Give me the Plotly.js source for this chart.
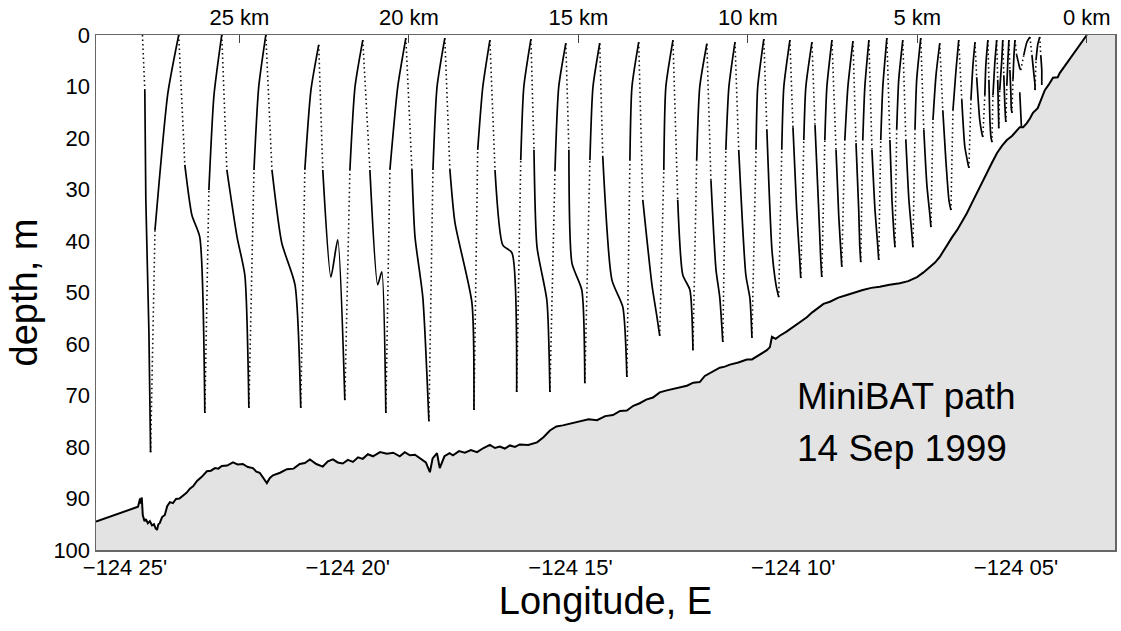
<!DOCTYPE html>
<html>
<head>
<meta charset="utf-8">
<script src="https://cdn.plot.ly/plotly-3.0.1.min.js"></script>
<style>html,body{margin:0;padding:0;background:#fff;}#chart{width:1121px;height:631px;}</style>
</head>
<body>
<div id="chart"></div>
<script>
// ---- axes ----
const xLeftKm = 29.23, xRightKm = -0.83;
const lonLeft = -124.4275, lonRight = -124.0463;
const kmTicks = [25, 20, 15, 10, 5, 0];
const kmTickText = ["25 km", "20 km", "15 km", "10 km", "5 km", "0 km"];
const lonTicks = [-124 - 25/60, -124 - 20/60, -124 - 15/60, -124 - 10/60, -124 - 5/60];
const lonTickText = ["\u2212124 25'", "\u2212124 20'", "\u2212124 15'", "\u2212124 10'", "\u2212124 05'"];
const depthTicks = [0, 10, 20, 30, 40, 50, 60, 70, 80, 90, 100];

// ---- bathymetry: [distance km, depth m] ----
const bathymetry = [
  [29.23,94.5],[27.99,91.6],[27.93,90.0],[27.91,91.0],[27.88,89.8],[27.85,93.2],[27.80,94.4],[27.76,94.0],
  [27.70,94.8],[27.64,94.4],[27.58,95.2],[27.52,95.0],[27.47,95.8],[27.43,96.1],[27.39,95.0],[27.35,94.8],
  [27.28,93.6],[27.20,93.2],[27.13,91.5],[27.05,90.7],[26.96,90.9],[26.87,90.1],[26.77,90.0],[26.67,89.5],
  [26.56,88.9],[26.46,88.1],[26.36,87.6],[26.25,86.6],[26.11,85.8],[25.96,84.7],[25.84,84.6],[25.72,84.1],
  [25.62,84.2],[25.52,83.7],[25.36,83.6],[25.19,83.0],[25.05,83.4],[24.90,83.3],[24.75,83.9],[24.60,84.1],
  [24.50,84.8],[24.40,85.0],[24.30,85.9],[24.19,87.0],[24.10,86.0],[24.01,85.5],[23.80,85.0],[23.60,84.3],
  [23.40,84.2],[23.22,83.3],[23.07,83.1],[22.92,82.4],[22.73,83.3],[22.54,83.8],[22.39,82.8],[22.24,82.4],
  [22.10,83.0],[21.95,83.2],[21.80,82.5],[21.65,82.9],[21.50,82.0],[21.36,82.3],[21.21,81.4],[21.06,81.8],
  [20.85,81.0],[20.65,81.3],[20.46,81.1],[20.27,81.8],[20.12,81.0],[19.97,81.6],[19.82,81.5],[19.68,82.2],
  [19.50,83.0],[19.38,84.9],[19.30,82.2],[19.17,81.2],[19.12,83.0],[19.09,84.1],[18.95,81.8],[18.80,81.2],
  [18.70,81.6],[18.52,80.8],[18.35,81.1],[18.17,80.6],[17.99,81.0],[17.80,80.2],[17.61,79.6],[17.46,80.2],
  [17.32,79.9],[17.17,80.3],[17.02,79.7],[16.87,80.0],[16.73,79.5],[16.48,79.6],[16.22,79.1],[16.03,78.1],
  [15.84,76.8],[15.65,76.0],[15.46,75.8],[15.21,75.4],[14.96,75.1],[14.70,74.6],[14.45,74.8],[14.21,74.0],
  [13.98,73.8],[13.77,73.0],[13.57,72.9],[13.38,72.0],[13.19,71.5],[13.00,70.8],[12.80,70.4],[12.60,69.4],
  [12.39,69.0],[12.10,68.5],[11.80,68.1],[11.61,67.5],[11.42,67.4],[11.27,66.2],[11.12,65.6],[10.98,65.2],
  [10.83,64.6],[10.68,64.4],[10.53,64.0],[10.28,63.6],[10.03,63.0],[9.88,63.0],[9.73,62.4],[9.58,61.9],
  [9.44,61.2],[9.35,60.6],[9.29,58.6],[9.18,59.0],[9.06,58.4],[8.86,57.6],[8.67,56.7],[8.46,55.8],
  [8.26,54.8],[8.11,53.9],[7.96,53.1],[7.77,52.2],[7.58,51.8],[7.33,51.0],[7.08,50.5],[6.85,50.0],
  [6.61,49.5],[6.36,49.1],[6.11,48.9],[5.82,48.5],[5.52,48.2],[5.27,47.8],[5.01,47.0],[4.82,46.1],
  [4.63,45.0],[4.48,44.2],[4.34,43.1],[4.22,41.8],[4.10,40.4],[3.97,39.2],[3.83,37.9],[3.69,36.4],
  [3.54,34.6],[3.39,32.6],[3.24,30.7],[3.10,28.8],[2.95,26.8],[2.80,24.8],[2.65,22.9],[2.50,21.5],
  [2.36,20.4],[2.21,19.6],[2.06,18.4],[1.98,17.9],[1.88,17.9],[1.77,17.1],[1.68,16.2],[1.59,15.1],
  [1.45,14.2],[1.39,13.2],[1.31,12.0],[1.24,10.7],[1.12,9.6],[1.00,8.3],[0.86,8.2],[0.80,7.4],[0.00,0.0]
];

// ---- MiniBAT tow-yo cycles (key points of each cycle) ----
const apexKm = [27.86, 26.79, 25.52, 24.22, 22.66, 21.36, 20.09, 18.94, 17.61, 16.40, 15.37, 14.37, 13.22, 12.21, 11.21, 10.38, 9.53, 8.76, 8.11, 7.52, 6.90, 6.43, 5.90, 5.43, 4.90, 4.34, 3.78, 3.30, 2.92, 2.66, 2.48, 2.30, 2.12, 1.68, 1.39];
const apexDepth = [0, 0, 0, 0, 1.9, 1.0, 0.6, 0.6, 1.0, 0.8, 1.6, 1.6, 1.4, 1.0, 1.7, 1.4, 0.8, 1.0, 1.4, 1.0, 1.2, 1.0, 0.6, 1.0, 0.6, 1.6, 1.0, 1.4, 1.0, 1.0, 1.0, 1.0, 1.0, 0.4, 0.4];
const descKneeKm = [27.79, 26.61, 25.37, 24.04, 22.54, 21.15, 19.91, 18.79, 17.46, 16.31, 15.28, 14.28, 13.10, 12.07, 11.09, 10.27, 9.44, 8.67, 8.02, 7.40, 6.81, 6.34, 5.81, 5.34, 4.81, 4.25, 3.69, 3.25, 2.89, 2.63, 2.45, 2.27, 2.07, 1.62, 1.36];
const descKneeDepth = [10.7, 25.2, 26.2, 26.2, 26.2, 26.2, 26.2, 26.2, 26.2, 22.3, 22.3, 23.7, 32.0, 32.0, 28.2, 22.3, 18.4, 17.9, 17.5, 22.3, 21.0, 22.3, 20.4, 20.4, 18.4, 14.6, 12.6, 8.2, 8.7, 8.7, 7.8, 6.8, 3.9, 3.9, 3.9];
const descMidKm = [27.76, 26.40, 25.07, 23.75, 22.30, 20.92, 19.82, 18.64, 17.23, 16.22, 15.19, 14.01, 12.83, 11.92, 10.94, 10.06, 9.29, 8.56, 7.91, 7.32, 6.73, 6.25, 5.75, 5.25, 4.72, 4.16, 3.60, 3.16, 2.86, 2.61, 2.42, 2.24, 2.01, 1.56, 1.33];
const descMidDepth = [32.0, 35.0, 39.2, 40.4, 47.0, 48.5, 39.2, 36.5, 40.8, 41.2, 44.3, 47.6, 48.5, 46.6, 45.6, 46.6, 41.7, 34.0, 34.0, 35.0, 34.0, 34.0, 32.0, 32.0, 29.1, 24.3, 21.7, 16.5, 16.5, 14.6, 13.6, 11.7, 5.6, 7.8, 6.8];
const descJKm = [27.67, 26.17, 24.84, 23.36, 22.10, 20.80, 19.59, 18.14, 16.96, 15.93, 14.90, 13.69, 12.69, 11.71, 10.83, 9.94, 9.17, 8.47, 7.85, 7.26, 6.70, 6.17, 5.69, 5.16, 4.63, 4.07, 3.51, 3.10, 2.83, 2.60, 2.40, 2.23, 1.98, 1.53, 1.33];
const descJDepth = [57.3, 39.2, 46.6, 48.5, 39.8, 46.0, 50.9, 52.0, 42.3, 51.5, 49.5, 52.8, 54.4, 49.5, 50.9, 51.1, 48.5, 43.7, 43.7, 41.7, 40.8, 40.8, 38.8, 38.8, 35.0, 32.0, 24.9, 19.0, 19.8, 17.3, 16.1, 14.2, 6.4, 9.7, 8.7];
const botKm = [27.62, 26.02, 24.72, 23.19, 21.89, 20.68, 19.41, 18.08, 16.82, 15.84, 14.81, 13.57, 12.60, 11.62, 10.74, 9.88, 9.09, 8.44, 7.82, 7.23, 6.67, 6.14, 5.66, 5.13, 4.60, 4.01, 3.48, 3.07, 2.80, 2.60, 2.39, 2.21, 1.95, 1.53, 1.33];
const botDepth = [81.0, 73.4, 72.4, 72.4, 70.9, 73.4, 75.0, 72.8, 69.3, 69.3, 67.6, 66.4, 58.4, 61.2, 59.6, 58.8, 50.9, 47.2, 47.0, 45.0, 44.1, 43.7, 41.2, 41.2, 37.3, 34.0, 25.8, 19.8, 20.8, 18.1, 16.9, 15.1, 6.8, 10.7, 9.7];
const ascKneeKm = [27.49, 25.90, 24.57, 23.07, 21.74, 20.56, 19.29, 17.97, 16.70, 15.69, 14.66, 13.48, 12.48, 11.51, 10.65, 9.76, 9.00, 8.35, 7.73, 7.14, 6.61, 6.08, 5.61, 5.07, 4.54, 3.95, 3.42, 3.01, 2.77, 2.57, 2.36, 2.18, 1.86, 1.50, null];
const ascKneeDepth = [37.9, 30.1, 26.2, 26.2, 26.2, 26.2, 26.2, 22.3, 24.3, 26.2, 24.3, 24.3, 26.2, 24.3, 22.3, 22.3, 22.3, 20.4, 20.4, 20.4, 20.4, 20.4, 18.4, 18.4, 16.5, 14.6, 12.6, 11.7, 11.7, 10.7, 9.7, 8.7, 3.9, 4.9, null];
const ascTopKm = [27.11, 25.75, 24.43, 22.89, 21.59, 20.33, 19.17, 17.82, 16.61, 15.58, 14.57, 13.42, 12.42, 11.42, 10.56, 9.71, 8.94, 8.29, 7.67, 7.05, 6.55, 6.02, 5.55, 5.02, 4.45, 3.86, 3.36, 2.98, 2.71, 2.51, 2.33, 2.15, 1.77, 1.45, null];
const ascTopDepth = [11.3, 11.7, 10.1, 10.7, 10.1, 10.1, 10.1, 10.1, 10.1, 10.1, 10.1, 10.1, 10.1, 10.1, 10.1, 10.1, 10.1, 10.1, 10.1, 10.1, 10.1, 10.1, 8.7, 8.7, 7.8, 6.8, 5.8, 5.8, 4.9, 4.9, 4.9, 3.9, 1.4, 1.9, null];
const spikeKm = [1.98, 1.96, 1.93];
const spikeDepth = [11.1, 14.5, 17.9];

// ---- build path segments ----
const bathyKm = bathymetry.map(p => p[0]);
const bathyDepth = bathymetry.map(p => p[1]);
const dotX = [], dotY = [], solX = [], solY = [];
for (let i = 0; i < apexKm.length; i++) {
  dotX.push(apexKm[i], descKneeKm[i], null);
  dotY.push(apexDepth[i], descKneeDepth[i], null);
  solX.push(descKneeKm[i], descMidKm[i], descJKm[i], botKm[i], null);
  solY.push(descKneeDepth[i], descMidDepth[i], descJDepth[i], botDepth[i], null);
  if (ascKneeKm[i] !== null && i + 1 < apexKm.length) {
    dotX.push(botKm[i], ascKneeKm[i], null);
    dotY.push(botDepth[i], ascKneeDepth[i], null);
    solX.push(ascKneeKm[i], ascTopKm[i], apexKm[i + 1], null);
    solY.push(ascKneeDepth[i], ascTopDepth[i], apexDepth[i + 1], null);
  }
}

const traces = [
  { x: bathyKm.concat([xRightKm, xRightKm, xLeftKm]), y: bathyDepth.concat([0, 100, 100]),
    mode: 'lines', fill: 'toself', fillcolor: '#e3e3e3', line: { width: 0, color: 'rgba(0,0,0,0)' }, hoverinfo: 'skip' },
  { x: bathyKm, y: bathyDepth, mode: 'lines', line: { color: '#000', width: 2 }, hoverinfo: 'skip' },
  { x: dotX, y: dotY, mode: 'lines', line: { color: '#111', width: 1.6, dash: '1.5px,3px' }, connectgaps: false, hoverinfo: 'skip' },
  { x: solX, y: solY, mode: 'lines', line: { color: '#000', width: 1.7, shape: 'spline', smoothing: 0.6 }, connectgaps: false, hoverinfo: 'skip' },
  { x: spikeKm, y: spikeDepth, mode: 'lines', line: { color: '#000', width: 1.7 }, hoverinfo: 'skip' },
  { x: lonTicks, y: lonTicks.map(() => 100), xaxis: 'x2', mode: 'markers', marker: { opacity: 0, size: 1 }, hoverinfo: 'skip' }
];

const layout = {
  width: 1121, height: 631,
  margin: { l: 96, r: 6, t: 35, b: 81, pad: 0 },
  paper_bgcolor: '#fff', plot_bgcolor: '#fff',
  showlegend: false,
  font: { family: 'Liberation Sans, Arial, Helvetica, sans-serif', color: '#000', size: 22 },
  xaxis: {
    range: [xLeftKm, xRightKm], side: 'top', tickmode: 'array', tickvals: kmTicks, ticktext: kmTickText,
    ticks: 'inside', ticklen: 8, tickwidth: 1.2, tickcolor: '#444',
    showline: true, linecolor: '#666', linewidth: 1.5, mirror: true,
    showgrid: false, zeroline: false, tickfont: { size: 22, color: '#000' }, ticklabelstandoff: 0, fixedrange: true
  },
  xaxis2: {
    overlaying: 'x', side: 'bottom', anchor: 'y', range: [lonLeft, lonRight],
    tickmode: 'array', tickvals: lonTicks, ticktext: lonTickText, ticks: '',
    showline: false, showgrid: false, zeroline: false, tickfont: { size: 22, color: '#000' }, ticklabelstandoff: 2,
    title: { text: 'Longitude, E', font: { size: 38, color: '#000' }, standoff: 6 }, fixedrange: true
  },
  yaxis: {
    range: [100, 0], tickmode: 'array', tickvals: depthTicks, ticks: '',
    showline: true, linecolor: '#666', linewidth: 1.5, mirror: true,
    showgrid: false, zeroline: false, tickfont: { size: 22, color: '#000' }, ticklabelstandoff: 0,
    title: { text: 'depth, m', font: { size: 38, color: '#000' }, standoff: 4 }, fixedrange: true
  },
  annotations: [
    { x: 8.61, y: 70.2, xref: 'x', yref: 'y', xanchor: 'left', yanchor: 'middle', text: 'MiniBAT path', showarrow: false, font: { size: 37, color: '#000' } },
    { x: 8.61, y: 80.3, xref: 'x', yref: 'y', xanchor: 'left', yanchor: 'middle', text: '14 Sep 1999', showarrow: false, font: { size: 37, color: '#000' } }
  ]
};

Plotly.newPlot('chart', traces, layout, { displayModeBar: false, staticPlot: true });
</script>
</body>
</html>
